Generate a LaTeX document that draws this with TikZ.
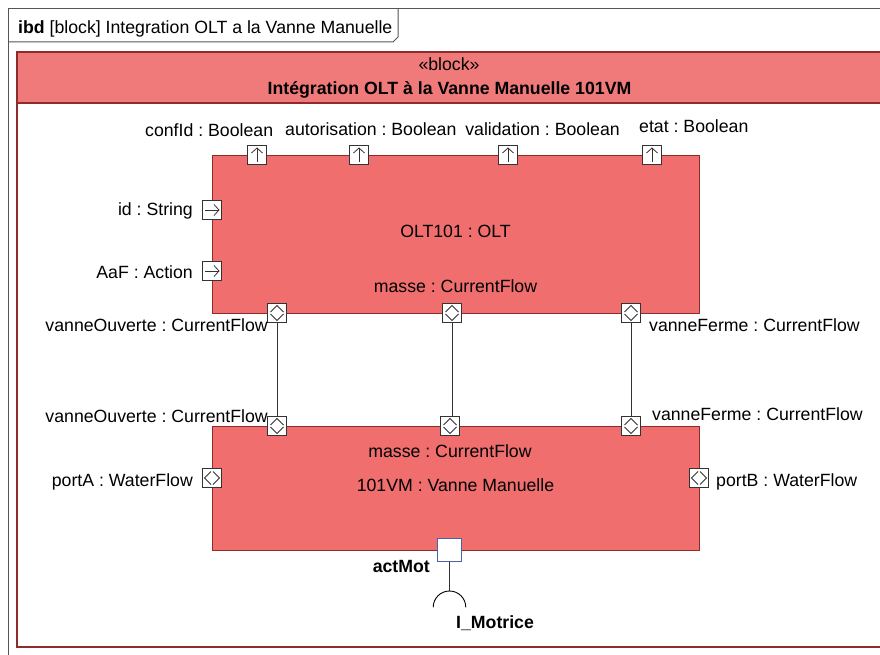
\documentclass[tikz,border=0pt]{standalone}
\usepackage{fontspec}
\setmainfont{Liberation Sans}
\usepackage{tikz}
\usetikzlibrary{positioning, calc}
\definecolor{blockhead}{HTML}{F07A7A}
\definecolor{partfill}{HTML}{F06E6E}
\definecolor{blockline}{HTML}{8E2B2B}
\definecolor{frameline}{HTML}{555555}
\definecolor{portblue}{HTML}{4A62A8}
\frenchspacing

\begin{document}
\begin{tikzpicture}[x=1pt, y=-1pt,
  every node/.style={font=\fontsize{17.7}{21}\selectfont, inner sep=0pt},
  boldtext/.style={font=\fontsize{17.7}{21}\selectfont\bfseries},
  part/.style={draw=blockline, fill=partfill, line width=0.9pt},
  port/.style={draw=black!80, fill=white, line width=0.9pt, minimum size=19.5pt},
  outport/.style={port, path picture={
      \coordinate (pc) at (path picture bounding box.center);
      \draw[line width=0.8pt] ([yshift=-7pt]pc) -- ([yshift=7pt]pc);
      \draw[line width=0.8pt] ([xshift=-5.5pt,yshift=2pt]pc) -- ([yshift=7pt]pc) -- ([xshift=5.5pt,yshift=2pt]pc);}},
  inport/.style={port, path picture={
      \coordinate (pc) at (path picture bounding box.center);
      \draw[line width=0.8pt] ([xshift=-7pt]pc) -- ([xshift=7pt]pc);
      \draw[line width=0.8pt] ([xshift=2pt,yshift=5.5pt]pc) -- ([xshift=7pt]pc) -- ([xshift=2pt,yshift=-5.5pt]pc);}},
  flowv/.style={port, path picture={
      \coordinate (pc) at (path picture bounding box.center);
      \draw[line width=0.8pt] ([xshift=-6.5pt,yshift=1pt]pc) -- ([yshift=7.5pt]pc) -- ([xshift=6.5pt,yshift=1pt]pc);
      \draw[line width=0.8pt] ([xshift=-6.5pt,yshift=-1pt]pc) -- ([yshift=-7.5pt]pc) -- ([xshift=6.5pt,yshift=-1pt]pc);}},
  flowh/.style={port, path picture={
      \coordinate (pc) at (path picture bounding box.center);
      \draw[line width=0.8pt] ([xshift=-1pt,yshift=6.5pt]pc) -- ([xshift=-7.5pt]pc) -- ([xshift=-1pt,yshift=-6.5pt]pc);
      \draw[line width=0.8pt] ([xshift=1pt,yshift=6.5pt]pc) -- ([xshift=7.5pt]pc) -- ([xshift=1pt,yshift=-6.5pt]pc);}},
  wire/.style={draw=black!80, line width=0.8pt}
]
  \useasboundingbox (0,0) rectangle (880,655);

  % diagram frame and tab
  \draw[frameline, line width=1pt] (8,670) -- (8,9) -- (900,9);
  \draw[frameline, line width=1pt] (8,42) -- (393,42) -- (398,37) -- (398,9);
  \node[anchor=base west] (title) at (18,33.3) {\textbf{ibd} [block] Integration OLT a la Vanne Manuelle};

  % context block
  \fill[blockhead] (17,52) rectangle (881,103);
  \draw[blockline, line width=1.2pt] (17,52) rectangle (881,647);
  \draw[blockline, line width=1.2pt] (17,103) -- (881,103);
  \node[anchor=base] (stereo) at (449,71) {«block»};
  \node[anchor=base, boldtext] (ctxname) at (449.5,94.3) {Intégration OLT à la Vanne Manuelle 101VM};

  % parts
  \node[part, minimum width=487pt, minimum height=158pt] (olt) at (455.5,234) {};
  \node[part, minimum width=487pt, minimum height=124pt] (vm) at (455.5,488) {};
  \node[anchor=base] (olt-name) at (455.5,237.7) {OLT101 : OLT};
  \node[anchor=base] (vm-name) at (455.5,491.7) {101VM : Vanne Manuelle};

  % OLT ports
  \node[outport] (confid) at (257,155) {};
  \node[outport] (autor) at (359,155) {};
  \node[outport] (valid) at (508,155) {};
  \node[outport] (etat) at (652,155) {};
  \node[inport] (id) at (212,210) {};
  \node[inport] (aaf) at (212,271) {};
  \node[flowv] (olt-vo) at (277,313) {};
  \node[flowv] (olt-masse) at (452,313) {};
  \node[flowv] (olt-vf) at (631,313) {};

  % 101VM ports
  \node[flowv] (vm-vo) at (277,426) {};
  \node[flowv] (vm-masse) at (450,426) {};
  \node[flowv] (vm-vf) at (631,426) {};
  \node[flowh] (porta) at (212,478) {};
  \node[flowh] (portb) at (699,478) {};
  \node[draw=portblue, fill=white, line width=1.1pt, minimum width=24pt, minimum height=23pt] (act) at (449.5,550) {};

  % port labels
  \node[anchor=base west] (l-confid) at (145,136.7) {confId : Boolean};
  \node[anchor=base west] (l-autor) at (285,136) {autorisation : Boolean};
  \node[anchor=base east] (l-valid) at (620,136) {validation : Boolean};
  \node[anchor=base west] (l-etat) at (639,132.7) {etat : Boolean};
  \node[anchor=base east] (l-id) at (193,215) {id : String};
  \node[anchor=base east] (l-aaf) at (193,278) {AaF : Action};
  \node[anchor=base] (l-masse1) at (455.5,292.7) {masse : CurrentFlow};
  \node[anchor=base east] (l-vo1) at (268,331) {vanneOuverte : CurrentFlow};
  \node[anchor=base west] (l-vf1) at (649,331) {vanneFerme : CurrentFlow};
  \node[anchor=base east] (l-vo2) at (268,422) {vanneOuverte : CurrentFlow};
  \node[anchor=base west] (l-vf2) at (652,420) {vanneFerme : CurrentFlow};
  \node[anchor=base] (l-masse2) at (450,457.7) {masse : CurrentFlow};
  \node[anchor=base east] (l-porta) at (193,486.7) {portA : WaterFlow};
  \node[anchor=base west] (l-portb) at (716,486) {portB : WaterFlow};
  \node[anchor=base east, boldtext] (l-act) at (430,572.7) {actMot};
  \node[anchor=base west, boldtext] (l-imot) at (456,628.3) {I\_Motrice};

  % connectors
  \draw[wire] (olt-vo) -- (vm-vo);
  \draw[wire] (olt-masse) -- (olt-masse |- vm-masse.north);
  \draw[wire] (olt-vf) -- (vm-vf);

  % required interface
  \coordinate (sock) at (449.5,591);
  \draw[wire] (act) -- (sock);
  \draw[black, line width=0.9pt] (sock) arc[start angle=270, end angle=180, radius=16.3]
    (sock) arc[start angle=270, end angle=360, radius=16.3];
\end{tikzpicture}
\end{document}
